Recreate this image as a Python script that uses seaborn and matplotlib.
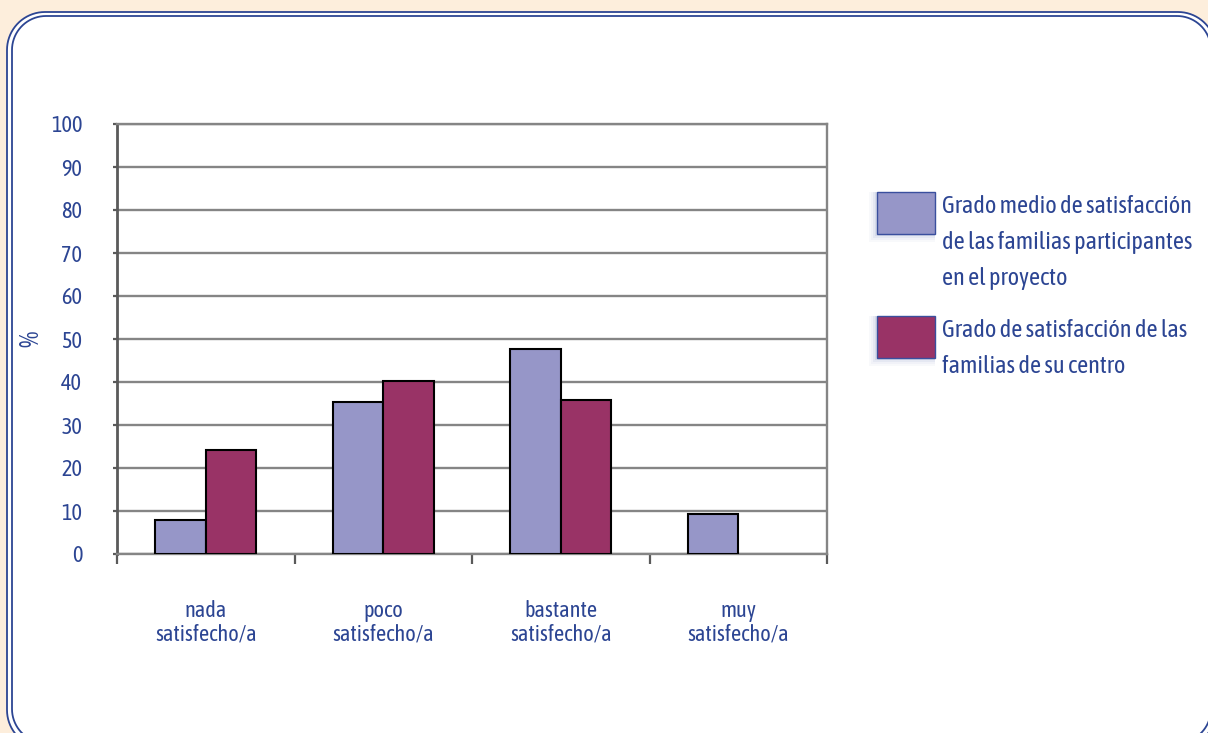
import matplotlib
matplotlib.use('Agg')
import numpy as np
import matplotlib.pyplot as plt
import seaborn as sns
import pandas as pd
from matplotlib.patches import Polygon, Rectangle
from matplotlib.transforms import IdentityTransform

# Datos
categorias = ['nada\nsatisfecho/a', 'poco\nsatisfecho/a',
              'bastante\nsatisfecho/a', 'muy\nsatisfecho/a']
serie_proyecto = [8, 35.3, 47.7, 9.3]
serie_centro = [24.2, 40.2, 35.8, 0]
nombres_series = ['Grado medio de satisfacción\nde las familias participantes\nen el proyecto',
                  'Grado de satisfacción de las\nfamilias de su centro']
y_ticks = list(range(0, 101, 10))

azul_texto = '#2C4593'
colores = ['#9696C8', '#993366']
fondo = '#FDEEDC'

df = pd.DataFrame({
    'categoria': categorias * 2,
    'valor': serie_proyecto + serie_centro,
    'serie': [nombres_series[0]] * 4 + [nombres_series[1]] * 4,
})

sns.set_style('white')
plt.rcParams['font.family'] = ['Asap Condensed', 'PT Sans Narrow',
                               'Archivo Narrow', 'Liberation Sans', 'DejaVu Sans']

W, H = 1208, 733
fig = plt.figure(figsize=(W / 100, H / 100), dpi=100, facecolor=fondo)


def caja(x0, y0, x1, y1, r, fc):
    # rectángulo redondeado como polígono, en píxeles (y hacia abajo)
    t = np.linspace(0, np.pi / 2, 20)
    esquinas = [(x1 - r, y0 + r, -np.pi / 2), (x1 - r, y1 - r, 0),
                (x0 + r, y1 - r, np.pi / 2), (x0 + r, y0 + r, np.pi)]
    pts = []
    for cx, cy, a0 in esquinas:
        pts += [(cx + r * np.cos(a0 + a), H - (cy + r * np.sin(a0 + a))) for a in t]
    fig.add_artist(Polygon(pts, closed=True, transform=IdentityTransform(),
                           facecolor=fc, edgecolor=azul_texto,
                           linewidth=1.3, zorder=0))


caja(7, 12, 1216, 748, 38, 'white')
caja(12, 16, 1211, 743, 34, 'none')

ax = fig.add_axes([117 / W, 1 - 554 / H, 710 / W, 430 / H])
ax.set_facecolor('none')

sns.barplot(data=df, x='categoria', y='valor', hue='serie',
            palette=colores, saturation=1, width=0.57, edgecolor='black',
            linewidth=1.5, ax=ax, legend=False, zorder=3)
for p in ax.patches:
    if p.get_height() == 0:
        p.set_visible(False)

ax.set_xlim(-0.5, 3.5)
ax.set_ylim(0, 100)
ax.set_yticks(y_ticks)
ax.grid(axis='y', color='#858585', linewidth=1.7, zorder=1)
ax.set_axisbelow(True)

for lado in ['top', 'right', 'bottom']:
    ax.spines[lado].set_color('#858585')
    ax.spines[lado].set_linewidth(1.7)
ax.spines['left'].set_color('#5a5a5a')
ax.spines['left'].set_linewidth(2)

ax.tick_params(axis='y', which='major', left=True, length=3, width=1.6,
               color='#5a5a5a', pad=22, labelsize=16, labelcolor=azul_texto)
ax.tick_params(axis='x', which='major', length=0, pad=33,
               labelsize=16, labelcolor=azul_texto)
ax.set_xticks([-0.5, 0.5, 1.5, 2.5, 3.5], minor=True)
ax.tick_params(axis='x', which='minor', bottom=True, length=7, width=1.6,
               color='#5a5a5a')
for t in ax.get_xticklabels():
    t.set_linespacing(1.1)

ax.set_xlabel('')
ax.set_ylabel('%', fontsize=19, color=azul_texto)
ax.yaxis.set_label_coords(-0.104, 0.5)

# Leyenda a la derecha
leyenda_y = [192, 316]
for ytop, color, nombre in zip(leyenda_y, colores, nombres_series):
    for k, a in enumerate([0.09, 0.06, 0.04, 0.03]):
        d = 2 + 2 * k
        fig.add_artist(Rectangle((877 - d, H - (ytop + 42) - d), 58 + d, 42 + d,
                                 transform=IdentityTransform(),
                                 facecolor='#3a4f9e', alpha=a,
                                 edgecolor='none', zorder=1))
    fig.add_artist(Rectangle((877, H - (ytop + 42)), 58, 42,
                             transform=IdentityTransform(), zorder=2,
                             facecolor=color, edgecolor='#3a4f9e',
                             linewidth=1.0))
    fig.text(942 / W, 1 - (ytop + 3) / H, nombre, fontsize=17.5,
             color=azul_texto, va='top', ha='left', linespacing=1.72)

fig.savefig('out.png', dpi=100, facecolor=fondo)
